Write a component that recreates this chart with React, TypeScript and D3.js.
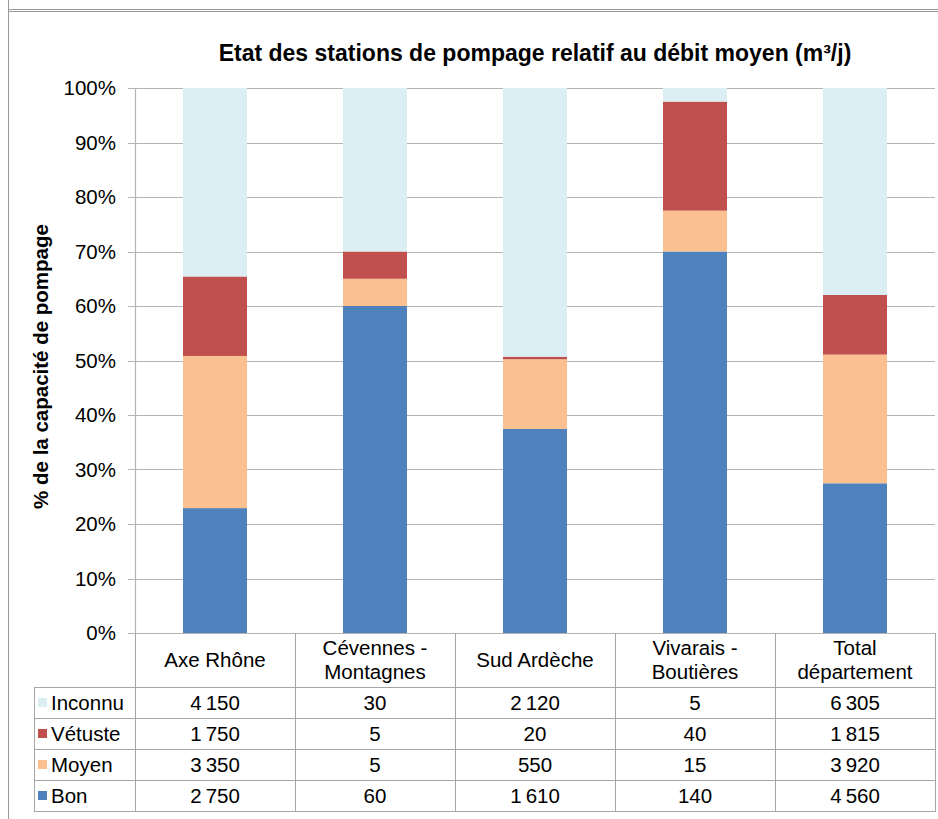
import React from "react";
import * as d3 from "d3";

const categories = [["Axe Rhône"], ["Cévennes -", "Montagnes"], ["Sud Ardèche"], ["Vivarais -", "Boutières"], ["Total", "département"]];
const seriesNames = ["Bon", "Moyen", "Vétuste", "Inconnu"];
const bon = [2750, 60, 1610, 140, 4560];
const moyen = [3350, 5, 550, 15, 3920];
const vetuste = [1750, 5, 20, 40, 1815];
const inconnu = [4150, 30, 2120, 5, 6305];
const colors = ["#4F81BD", "#FAC090", "#C0504D", "#DBEEF4"];
const yTicks = [0, 0.1, 0.2, 0.3, 0.4, 0.5, 0.6, 0.7, 0.8, 0.9, 1];
const title = "Etat des stations de pompage relatif au débit moyen (m³/j)";
const yTitle = "% de la capacité de pompage";

const W = 938, H = 819;
const L = 135, R = 935, T = 88, B = 633;
const FONT = "'Liberation Sans', Arial, sans-serif";
const FS = 20.5;

export default function App() {
  const keys = categories.map((c) => c.join(" "));
  const seriesValues = [bon, moyen, vetuste, inconnu];
  const x = d3.scaleBand<string>().domain(keys).range([L, R]).paddingInner(0.6).paddingOuter(0.3);
  const y = d3.scaleLinear().domain([0, 1]).range([B, T]);
  const rows = keys.map((k, i) => {
    const o: any = { key: k };
    seriesNames.forEach((s, j) => (o[s] = seriesValues[j][i]));
    return o;
  });
  const stacked = d3.stack<any>().keys(seriesNames).offset(d3.stackOffsetExpand)(rows);
  const step = x.step();
  const fmt = (v: number) => d3.format(",")(v).replace(/,/g, "\u202F");
  const tableRows = [3, 2, 1, 0];
  const headerBottom = 687;
  const rowH = 31;
  const tableLeft = 34;
  const lineColor = "#a6a6a6";
  const colEdges = keys.map((_, i) => L + i * step).concat([R]);

  return (
    <svg width={W} height={H} style={{ position: "absolute", left: 0, top: 0, background: "#fff" }} fontFamily={FONT}>
      <rect x={0} y={0} width={W} height={H} fill="#fff" />
      {/* frame */}
      <line x1={8.5} y1={0} x2={8.5} y2={H} stroke="#999" strokeWidth={1} />
      <line x1={8} y1={9.5} x2={W} y2={9.5} stroke="#999" strokeWidth={1} />
      <line x1={8} y1={11.5} x2={W} y2={11.5} stroke="#999" strokeWidth={1} />
      <text x={(L + R) / 2} y={61} textAnchor="middle" fontSize={23} fontWeight="bold" fill="#000">{title}</text>
      {/* gridlines and ticks */}
      {yTicks.map((t) => (
        <g key={t}>
          <line x1={L - 7} x2={R} y1={Math.round(y(t)) + 0.5} y2={Math.round(y(t)) + 0.5} stroke="#b3b3b3" strokeWidth={1.2} />
          <text x={116} y={y(t)} dy="0.35em" textAnchor="end" fontSize={FS} fill="#000">{d3.format(".0%")(t)}</text>
        </g>
      ))}
      <line x1={L + 0.5} x2={L + 0.5} y1={T} y2={B} stroke="#b3b3b3" strokeWidth={1.2} />
      <text transform={`translate(48,${(T + B) / 2 + 6}) rotate(-90)`} textAnchor="middle" fontSize={FS} fontWeight="bold" fill="#000">{yTitle}</text>
      {/* bars */}
      {stacked.map((s, si) => (
        <g key={s.key} fill={colors[si]}>
          {s.map((d, i) => (
            <rect key={i} x={x(keys[i])} width={x.bandwidth()} y={y(d[1])} height={y(d[0]) - y(d[1])} />
          ))}
        </g>
      ))}
      {/* table */}
      {colEdges.map((cx, i) => (
        <line key={"v" + i} x1={cx + 0.5} x2={cx + 0.5} y1={B} y2={headerBottom + rowH * 4} stroke={lineColor} />
      ))}
      <line x1={tableLeft + 0.5} x2={tableLeft + 0.5} y1={headerBottom} y2={headerBottom + rowH * 4} stroke={lineColor} />
      {[0, 1, 2, 3, 4].map((r) => (
        <line key={"h" + r} x1={tableLeft} x2={R + 1} y1={headerBottom + r * rowH + 0.5} y2={headerBottom + r * rowH + 0.5} stroke={lineColor} />
      ))}
      {categories.map((c, i) => {
        const cx = L + i * step + step / 2;
        const cy = (B + headerBottom) / 2;
        return (
          <text key={"c" + i} x={cx} textAnchor="middle" fontSize={FS} fill="#000">
            {c.map((ln, k) => (
              <tspan key={k} x={cx} y={cy + (k - (c.length - 1) / 2) * 24} dy="0.35em">{ln}</tspan>
            ))}
          </text>
        );
      })}
      {tableRows.map((si, r) => {
        const cy = headerBottom + r * rowH + rowH / 2;
        return (
          <g key={"r" + si}>
            <rect x={38} y={cy - 4.5} width={9} height={9} fill={colors[si]} />
            <text x={51} y={cy} dy="0.35em" fontSize={FS} fill="#000">{seriesNames[si]}</text>
            {seriesValues[si].map((v, i) => (
              <text key={i} x={L + i * step + step / 2} y={cy} dy="0.35em" textAnchor="middle" fontSize={FS} fill="#000">{fmt(v)}</text>
            ))}
          </g>
        );
      })}
    </svg>
  );
}
